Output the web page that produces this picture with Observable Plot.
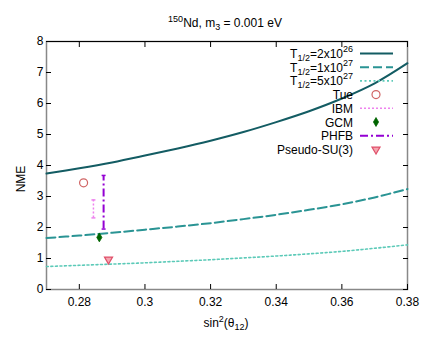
<!DOCTYPE html>
<html><head><meta charset="utf-8">
<script src="https://cdn.jsdelivr.net/npm/d3@7"></script>
<script src="https://cdn.jsdelivr.net/npm/@observablehq/plot@0.6"></script>
<style>
body{margin:0;background:#fff}
svg{font-family:"Liberation Sans",Arial,Helvetica,sans-serif}
</style>
</head><body><div id="chart"></div>
<script>
// ---- data ----
const s2 = [0.27,0.28,0.29,0.30,0.31,0.32,0.33,0.34,0.35,0.36,0.37,0.38];
const nmeT2e26 = [3.74,3.91,4.10,4.32,4.55,4.80,5.08,5.40,5.75,6.16,6.65,7.30];
const nmeT1e27 = [1.66,1.74,1.83,1.93,2.03,2.14,2.27,2.41,2.57,2.75,2.97,3.24];
const nmeT5e27 = [0.74,0.78,0.82,0.86,0.91,0.96,1.02,1.08,1.15,1.23,1.33,1.44];
const tueX = [0.2813], tueY = [3.44];
const ibmX = [0.2843], ibmLow = [2.31], ibmHigh = [2.89];
const gcmX = [0.2861], gcmY = [1.68];
const phfbX = [0.2874], phfbLow = [1.95], phfbHigh = [3.68];
const psuX = [0.2889], psuY = [0.97];
const xTicks = [0.28,0.30,0.32,0.34,0.36,0.38];
const xTickLabels = ["0.28","0.3","0.32","0.34","0.36","0.38"];
const yTicks = [0,1,2,3,4,5,6,7,8];

const C = {solid:"#135c63", dashed:"#2a9494", dotted:"#5ccab8", tue:"#d06464", ibm:"#ee82ee", gcm:"#006400", phfb:"#9400d3", psu:"#e0506a", psuFill:"#f4a6b0"};

const mk = (xs, ys) => xs.map((x,i)=>({x, y:ys[i]}));
const capSymbol = {draw(ctx, size){ const r = Math.sqrt(size/Math.PI); ctx.moveTo(-r,0); ctx.lineTo(r,0); }};

const ibmBars = ibmX.map((x,i)=>({x, lo:ibmLow[i], hi:ibmHigh[i]}));
const phfbBars = phfbX.map((x,i)=>({x, lo:phfbLow[i], hi:phfbHigh[i]}));
const ibmCaps = ibmBars.flatMap(d=>[{x:d.x,y:d.lo},{x:d.x,y:d.hi}]);
const phfbCaps = phfbBars.flatMap(d=>[{x:d.x,y:d.lo},{x:d.x,y:d.hi}]);

const plot = Plot.plot({
  width: 425, height: 348,
  marginLeft: 46, marginRight: 18, marginTop: 41, marginBottom: 59,
  style: {fontSize: "12px", fontFamily: "Liberation Sans, Arial, sans-serif", background: "#fff"},
  x: {domain: [0.27, 0.38]},
  y: {domain: [0, 8]},
  marks: [
    Plot.frame({stroke: "#888", strokeWidth: 1.5}),
    Plot.ruleY([8], {stroke: "#000", strokeWidth: 1}),
    Plot.axisY(yTicks, {anchor: "left", tickSize: -5, tickPadding: 8, label: null, fontSize: 12, color: "#000"}),
    Plot.axisY(yTicks, {anchor: "right", tickSize: -5, tickFormat: () => "", label: null}),
    Plot.axisX(xTicks, {anchor: "bottom", tickSize: -5, tickPadding: 13, label: null, fontSize: 12,
      tickFormat: (d) => xTickLabels[xTicks.indexOf(d)]}),
    Plot.axisX(xTicks, {anchor: "top", tickSize: -5, tickFormat: () => "", label: null}),
    Plot.line(mk(s2, nmeT5e27), {x:"x", y:"y", curve:"catmull-rom", stroke:C.dotted, strokeWidth:1.6, strokeDasharray:"2,2.5"}),
    Plot.line(mk(s2, nmeT1e27), {x:"x", y:"y", curve:"catmull-rom", stroke:C.dashed, strokeWidth:2, strokeDasharray:"9,4"}),
    Plot.line(mk(s2, nmeT2e26), {x:"x", y:"y", curve:"catmull-rom", stroke:C.solid, strokeWidth:2}),
    Plot.dot(mk(tueX, tueY), {x:"x", y:"y", r:4, stroke:C.tue, strokeWidth:1.2, fill:"none"}),
    Plot.ruleX(ibmBars, {x:"x", y1:"lo", y2:"hi", stroke:C.ibm, strokeWidth:1.5, strokeDasharray:"2,2"}),
    Plot.dot(ibmCaps, {x:"x", y:"y", symbol:capSymbol, r:2, stroke:C.ibm, strokeWidth:1.5, fill:"none"}),
    Plot.ruleX(phfbBars, {x:"x", y1:"lo", y2:"hi", stroke:C.phfb, strokeWidth:2, strokeDasharray:"8,3,2,3"}),
    Plot.dot(phfbCaps, {x:"x", y:"y", symbol:capSymbol, r:2, stroke:C.phfb, strokeWidth:1.5, fill:"none"}),
    Plot.dot(mk(gcmX, gcmY), {x:"x", y:"y", symbol:"diamond", r:2.7, fill:C.gcm, stroke:C.gcm, strokeWidth:0.8}),
    Plot.dot(mk(psuX, psuY), {x:"x", y:"y", symbol:"triangle", rotate:180, r:3, stroke:C.psu, strokeWidth:1.2, fill:C.psuFill})
  ]
});
document.getElementById("chart").appendChild(plot);

// ---- title, axis labels, legend (text with sub/superscripts) ----
const svg = d3.select(plot);
function rich(sel, parts){
  parts.forEach(p=>{
    const t = sel.append("tspan").text(p.t);
    if (p.dy) t.attr("dy", p.dy);
    if (p.fs) t.attr("font-size", p.fs);
  });
}
const title = svg.append("text").attr("x", 225).attr("y", 27).attr("text-anchor","middle").attr("font-size",12).attr("fill","#000");
rich(title, [{t:"150", fs:9, dy:-5},{t:"Nd, m", dy:5},{t:"3", fs:9, dy:3},{t:" = 0.001 eV", dy:-3}]);

const xl = svg.append("text").attr("x", 226).attr("y", 327).attr("text-anchor","middle").attr("font-size",12).attr("fill","#000");
rich(xl, [{t:"sin"},{t:"2", fs:9, dy:-5},{t:"(θ", dy:5},{t:"12", fs:9, dy:3},{t:")", dy:-3}]);

svg.append("text").attr("transform","translate(25,179) rotate(-90)").attr("text-anchor","middle").attr("font-size",12).attr("fill","#000").text("NME");

const legend = [
  {parts:[{t:"T"},{t:"1/2", fs:9, dy:3},{t:"=2x10", dy:-3},{t:"26", fs:9, dy:-6}], kind:"line", stroke:C.solid, dash:null, w:2},
  {parts:[{t:"T"},{t:"1/2", fs:9, dy:3},{t:"=1x10", dy:-3},{t:"27", fs:9, dy:-6}], kind:"line", stroke:C.dashed, dash:"9,4", w:2},
  {parts:[{t:"T"},{t:"1/2", fs:9, dy:3},{t:"=5x10", dy:-3},{t:"27", fs:9, dy:-6}], kind:"line", stroke:C.dotted, dash:"2,2.5", w:1.6},
  {parts:[{t:"Tue"}], kind:"circle"},
  {parts:[{t:"IBM"}], kind:"line", stroke:C.ibm, dash:"2,2", w:1.5},
  {parts:[{t:"GCM"}], kind:"diamond"},
  {parts:[{t:"PHFB"}], kind:"line", stroke:C.phfb, dash:"8,3,2,3", w:2},
  {parts:[{t:"Pseudo-SU(3)"}], kind:"tri"}
];
const lg = svg.append("g");
legend.forEach((e,i)=>{
  const cy = 53.5 + i*13.7;
  const t = lg.append("text").attr("x", 353).attr("y", cy+4.5).attr("text-anchor","end").attr("font-size",12).attr("fill","#000");
  rich(t, e.parts);
  if (e.kind === "line") {
    const l = lg.append("line").attr("x1",360).attr("x2",393).attr("y1",cy).attr("y2",cy).attr("stroke",e.stroke).attr("stroke-width",e.w);
    if (e.dash) l.attr("stroke-dasharray", e.dash);
  } else if (e.kind === "circle") {
    lg.append("circle").attr("cx",376).attr("cy",cy).attr("r",4).attr("fill","none").attr("stroke",C.tue).attr("stroke-width",1.2);
  } else if (e.kind === "diamond") {
    lg.append("path").attr("transform",`translate(376,${cy})`).attr("d", d3.symbol(d3.symbolDiamond, 2.7*2.7*Math.PI)()).attr("fill",C.gcm).attr("stroke",C.gcm).attr("stroke-width",0.8);
  } else if (e.kind === "tri") {
    lg.append("path").attr("transform",`translate(376,${cy}) rotate(180)`).attr("d", d3.symbol(d3.symbolTriangle, 9*Math.PI)()).attr("fill",C.psuFill).attr("stroke",C.psu).attr("stroke-width",1.2);
  }
});
</script>
</body></html>
